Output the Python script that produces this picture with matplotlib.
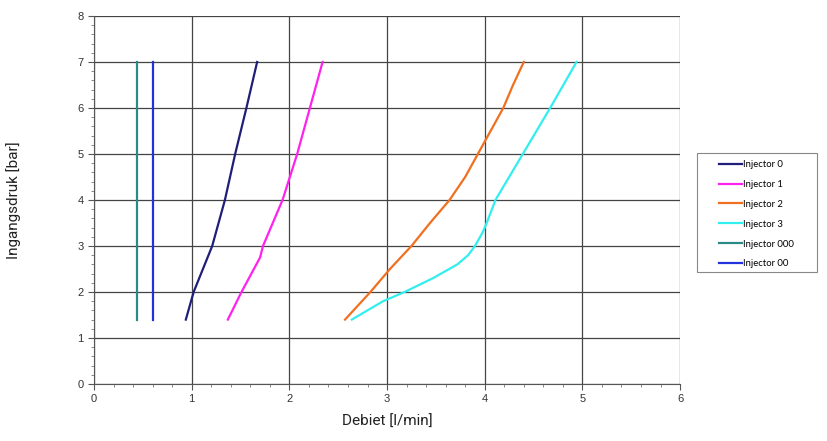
import matplotlib.pyplot as plt
from matplotlib.patches import Rectangle
from matplotlib.ticker import MultipleLocator

# druk (bar) en debiet (l/min) per injector
p_000 = [1.4, 7.0]
q_000 = [0.44, 0.44]

p_00 = [1.4, 7.0]
q_00 = [0.60, 0.60]

p_0 = [1.4, 2.0, 3.0, 4.0, 5.0, 6.0, 7.0]
q_0 = [0.94, 1.02, 1.21, 1.34, 1.445, 1.56, 1.67]

p_1 = [1.4, 2.0, 2.75, 3.0, 4.0, 5.0, 6.0, 7.0]
q_1 = [1.37, 1.51, 1.70, 1.73, 1.93, 2.08, 2.21, 2.34]

p_2 = [1.4, 2.0, 2.5, 3.0, 3.5, 4.0, 4.5, 5.0, 5.5, 6.0, 6.5, 7.0]
q_2 = [2.57, 2.83, 3.03, 3.25, 3.44, 3.64, 3.80, 3.93, 4.06, 4.19, 4.29, 4.40]

p_3 = [1.4, 1.8, 2.0, 2.3, 2.6, 2.8, 3.0, 3.3, 3.5, 4.0, 5.0, 6.0, 7.0]
q_3 = [2.64, 2.96, 3.18, 3.47, 3.72, 3.83, 3.90, 3.98, 4.02, 4.11, 4.39, 4.67, 4.94]

fig = plt.figure(figsize=(8.27, 4.41), dpi=100)
ax = fig.add_axes([0.1137, 0.1293, 0.7086, 0.8344])

ax.plot(q_0, p_0, color='#1f1f7a', lw=1.6, label='Injector 0')
ax.plot(q_1, p_1, color='#ff22ee', lw=1.6, label='Injector 1')
ax.plot(q_2, p_2, color='#f07020', lw=1.6, label='Injector 2')
ax.plot(q_3, p_3, color='#33eeee', lw=1.6, label='Injector 3')
ax.plot(q_000, p_000, color='#2a8a86', lw=1.6, label='Injector 000')
ax.plot(q_00, p_00, color='#2233dd', lw=1.6, label='Injector 00')

ax.set_xlim(0, 6)
ax.set_ylim(0, 8)
ax.xaxis.set_major_locator(MultipleLocator(1))
ax.xaxis.set_minor_locator(MultipleLocator(0.2))
ax.yaxis.set_major_locator(MultipleLocator(1))
ax.yaxis.set_minor_locator(MultipleLocator(0.2))
ax.grid(True, which='major', color='#444444', lw=0.9)
ax.set_axisbelow(True)

for s in ['top', 'right']:
    ax.spines[s].set_visible(False)
for s in ['left', 'bottom']:
    ax.spines[s].set_color('#555555')

ax.tick_params(which='major', length=4, color='#555555', labelsize=8,
               labelcolor='#333333', labelfontfamily='Liberation Sans')
ax.tick_params(which='minor', length=2.5, color='#777777')

ax.set_xlabel('Debiet [l/min]', fontsize=11, family='Roboto', color='#222222')
ax.set_ylabel('Ingangsdruk [bar]', fontsize=11, family='Roboto', color='#222222')
ax.xaxis.set_label_coords(0.5, -0.085)
ax.yaxis.set_label_coords(-0.125, 0.5)

# legend frame drawn separately so it can be wider than the entries
fig.patches.append(Rectangle((0.8428, 0.3832), 0.1451, 0.2699, transform=fig.transFigure,
                             facecolor='white', edgecolor='#888888', lw=0.8, zorder=-1))
leg = ax.legend(loc='upper left', bbox_to_anchor=(0.8694, 0.637), bbox_transform=fig.transFigure,
                prop={'family': 'Lato', 'size': 6.8}, frameon=False, handlelength=2.4,
                handletextpad=0.1, labelspacing=1.15, borderpad=0, borderaxespad=0)

fig.savefig('out.png', dpi=100)
